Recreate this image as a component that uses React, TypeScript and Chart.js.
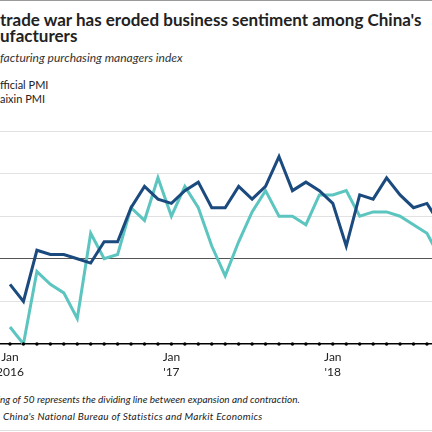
import React, { useEffect, useRef } from "react";
import { Chart, registerables } from "chart.js";

Chart.register(...registerables);

const months: string[] = [
  "2016-01", "2016-02", "2016-03", "2016-04", "2016-05", "2016-06",
  "2016-07", "2016-08", "2016-09", "2016-10", "2016-11", "2016-12",
  "2017-01", "2017-02", "2017-03", "2017-04", "2017-05", "2017-06",
  "2017-07", "2017-08", "2017-09", "2017-10", "2017-11", "2017-12",
  "2018-01", "2018-02", "2018-03", "2018-04", "2018-05", "2018-06",
  "2018-07", "2018-08", "2018-09",
];

const officialPMI: number[] = [
  49.4, 49.0, 50.2, 50.1, 50.1, 50.0, 49.9, 50.4, 50.4, 51.2, 51.7, 51.4,
  51.3, 51.6, 51.8, 51.2, 51.2, 51.7, 51.4, 51.7, 52.4, 51.6, 51.8, 51.6,
  51.3, 50.3, 51.5, 51.4, 51.9, 51.5, 51.2, 51.3, 50.8,
];

const caixinPMI: number[] = [
  48.4, 48.0, 49.7, 49.4, 49.2, 48.6, 50.6, 50.0, 50.1, 51.2, 50.9, 51.9,
  51.0, 51.7, 51.2, 50.3, 49.6, 50.4, 51.1, 51.6, 51.0, 51.0, 50.8, 51.5,
  51.5, 51.6, 51.0, 51.1, 51.1, 51.0, 50.8, 50.6, 50.0,
];

const tickPositions: number[] = [0, 12, 24];
const tickLabels: string[][] = [["Jan", "2016"], ["Jan", "'17"], ["Jan", "'18"]];

const seriesNames: string[] = ["Official PMI", "Caixin PMI"];

const NAVY = "#1b4a7e";
const TEAL = "#5cc5bf";
const FONT = "Lato, 'Noto Sans', sans-serif";

const baselineDots = {
  id: "baselineDots",
  afterDraw(chart: any) {
    const { ctx, scales } = chart;
    const xs = scales.x;
    const ys = scales.y;
    const y = ys.getPixelForValue(ys.min);
    ctx.save();
    ctx.fillStyle = "#000";
    months.forEach((_, i) => {
      const x = xs.getPixelForValue(i);
      ctx.beginPath();
      ctx.arc(x, y, 1.7, 0, Math.PI * 2);
      ctx.fill();
    });
    ctx.restore();
  },
};

function Line(props: { top: number; hidden: string; text: string; style: React.CSSProperties }) {
  const { top, hidden, text, style } = props;
  return (
    <div
      style={{
        position: "absolute",
        left: 0,
        top,
        whiteSpace: "nowrap",
        ...style,
      }}
    >
      <span style={{ position: "absolute", right: "100%", top: 0 }}>{hidden}</span>
      {text}
    </div>
  );
}

export default function App() {
  const canvasRef = useRef<HTMLCanvasElement | null>(null);

  useEffect(() => {
    document.body.style.margin = "0";
    const canvas = canvasRef.current;
    if (!canvas) return;
    const chart = new Chart(canvas, {
      type: "line",
      data: {
        datasets: [
          {
            label: seriesNames[0],
            data: officialPMI.map((v, i) => ({ x: i, y: v })),
            borderColor: NAVY,
            borderWidth: 3,
            pointRadius: 0,
            tension: 0,
          },
          {
            label: seriesNames[1],
            data: caixinPMI.map((v, i) => ({ x: i, y: v })),
            borderColor: TEAL,
            borderWidth: 3,
            pointRadius: 0,
            tension: 0,
          },
        ],
      },
      options: {
        responsive: false,
        animation: false,
        layout: { padding: { top: 6, left: 0, right: 0, bottom: 0 } },
        plugins: {
          legend: { display: false },
          tooltip: { enabled: false },
        },
        scales: {
          x: {
            type: "linear",
            min: -10 / 13.45,
            max: (432 - 10) / 13.45,
            grid: { display: false, drawTicks: false },
            border: { display: true, color: "#000", width: 1.5 },
            afterBuildTicks: (scale: any) => {
              scale.ticks = tickPositions.map((v) => ({ value: v }));
            },
            afterFit: (scale: any) => {
              scale.paddingLeft = 0;
              scale.paddingRight = 0;
            },
            ticks: {
              autoSkip: false,
              maxRotation: 0,
              padding: 6,
              color: "#222",
              font: { family: FONT, size: 12, lineHeight: 1.25 },
              callback: (value: any) => {
                const k = tickPositions.indexOf(Number(value));
                return k >= 0 ? tickLabels[k] : "";
              },
            },
          },
          y: {
            min: 48,
            max: 53,
            ticks: { display: false, stepSize: 1 },
            border: { display: false },
            grid: {
              drawTicks: false,
              lineWidth: 1,
              color: (ctx: any) =>
                ctx.tick && ctx.tick.value === 50
                  ? "#555"
                  : ctx.tick && ctx.tick.value === 48
                  ? "rgba(0,0,0,0)"
                  : "#e2e2e2",
            },
          },
        },
      },
      plugins: [baselineDots],
    });
    return () => chart.destroy();
  }, []);

  const titleStyle: React.CSSProperties = { fontSize: 17, fontWeight: 700, lineHeight: "20px", color: "#222" };

  return (
    <div
      style={{
        position: "fixed",
        left: 0,
        top: 0,
        width: 432,
        height: 432,
        overflow: "hidden",
        background: "#fff",
        fontFamily: FONT,
        color: "#222",
      }}
    >
      <div style={{ position: "absolute", left: 0, top: 0, width: 432, height: 1, background: "#9a9a9a" }} />
      <Line top={10} hidden="The " text="trade war has eroded business sentiment among China's" style={titleStyle} />
      <Line top={26} hidden="man" text="ufacturers" style={titleStyle} />
      <Line
        top={50}
        hidden="Manu"
        text="facturing purchasing managers index"
        style={{ fontSize: 12, fontStyle: "italic", lineHeight: "16px", color: "#333" }}
      />
      <Line
        top={77}
        hidden="O"
        text="fficial PMI"
        style={{ fontSize: 11, lineHeight: "16px", color: "#222" }}
      />
      <Line
        top={91}
        hidden="C"
        text="aixin PMI"
        style={{ fontSize: 11, lineHeight: "16px", color: "#222" }}
      />
      <canvas
        ref={canvasRef}
        width={432}
        height={261}
        style={{ position: "absolute", left: 0, top: 125, width: 432, height: 261 }}
      />
      <Line
        top={391}
        hidden="Note: A readi"
        text="ng of 50 represents the dividing line between expansion and contraction."
        style={{ fontSize: 10, fontStyle: "italic", lineHeight: "16px", color: "#222" }}
      />
      <Line
        top={408}
        hidden="Source:"
        text="China's National Bureau of Statistics and Markit Economics"
        style={{ fontSize: 10, fontStyle: "italic", lineHeight: "16px", color: "#222", paddingLeft: 3, letterSpacing: 0.25 }}
      />
      <div style={{ position: "absolute", left: 0, top: 430, width: 432, height: 1, background: "#e0e0e0" }} />
    </div>
  );
}
